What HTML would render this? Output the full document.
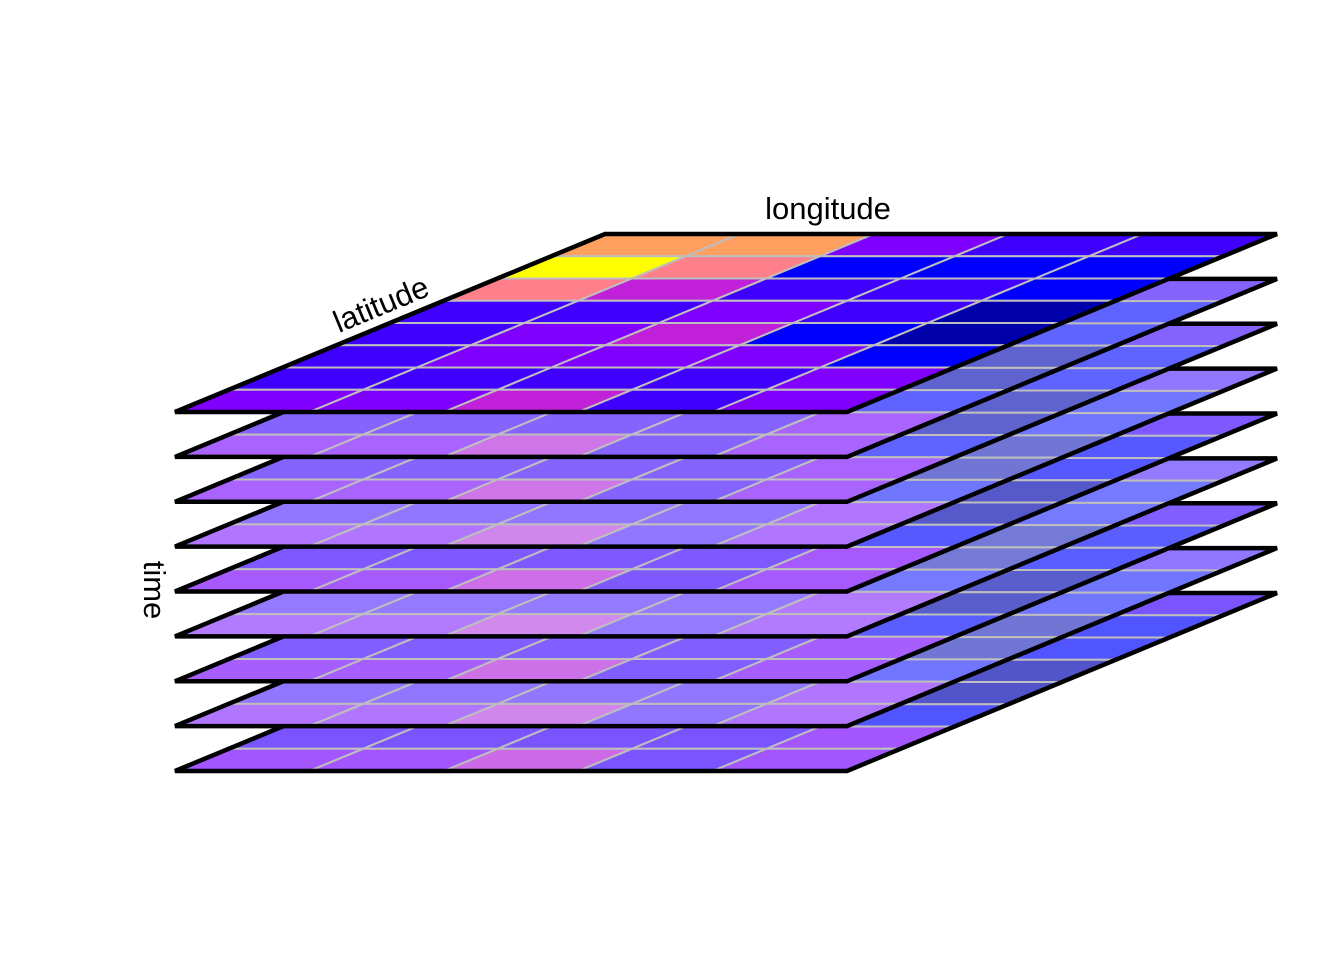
<!DOCTYPE html>
<html><head><meta charset="utf-8"><style>
html,body{margin:0;padding:0;background:#fff;}
svg{display:block;}
text{font-family:"Liberation Sans",Arial,sans-serif;font-size:31px;fill:#000;}
</style></head><body>
<svg id="chart" width="1344" height="960" viewBox="0 0 1344 960" xmlns="http://www.w3.org/2000/svg">
<g id="layers"></g>
<text x="828" y="219" text-anchor="middle">longitude</text>
<text x="385" y="314" text-anchor="middle" transform="rotate(-22.5 385 314)">latitude</text>
<text x="144" y="590" text-anchor="middle" transform="rotate(90 144 590)">time</text>
</svg>
<script>
// grid values: rows back->front, cols left->right
const row0 = ["#FFA060","#FFA060","#8000FF","#4000FF","#4000FF"];
const row1 = ["#FFFF00","#FF7F8A","#0000FF","#0000FF","#0000FF"];
const row2 = ["#FF7F8A","#C020D8","#4000FF","#4000FF","#0000FF"];
const row3 = ["#4000FF","#4000FF","#8000FF","#4000FF","#0000AA"];
const row4 = ["#4000FF","#8000FF","#C020D8","#0000FF","#0000AA"];
const row5 = ["#4000FF","#8000FF","#8000FF","#8000FF","#0000FF"];
const row6 = ["#4000FF","#4000FF","#4000FF","#4000FF","#8000FF"];
const row7 = ["#8000FF","#8000FF","#C020D8","#4000FF","#8000FF"];
const gridRows = [row0,row1,row2,row3,row4,row5,row6,row7];
// lightness (white mix) per time layer, top layer first
const layerFade = [0,0.42,0.42,0.5,0.38,0.52,0.4,0.5,0.36];

const X0=175, W=672, DX=430, DY=178, FRONT0=412, STEP=44.875;
const NS="http://www.w3.org/2000/svg";
const g=document.getElementById('layers');
function mix(hex,f){const n=parseInt(hex.slice(1),16);const r=n>>16,gg=(n>>8)&255,b=n&255;
 const m=(v,t)=>Math.round(v+(t-v)*f);return `rgb(${m(r,225)},${m(gg,235)},${m(b,255)})`;}
function pt(u,v,front){return [X0+W*u+DX*v, front-DY*v];}
function poly(pts){return pts.map(p=>p[0].toFixed(1)+','+p[1].toFixed(1)).join(' ');}
const nR=gridRows.length, nC=gridRows[0].length;
for(let k=layerFade.length-1;k>=0;k--){
 const front=FRONT0+k*STEP;
 const lg=document.createElementNS(NS,'g');
 
 
 for(let r=0;r<nR;r++){for(let c=0;c<nC;c++){
  const v1=(nR-r)/nR, v0=(nR-r-1)/nR, u0=c/nC, u1=(c+1)/nC;
  const p=document.createElementNS(NS,'polygon');
  
  
  p.setAttribute('points',poly([pt(u0,v0,front),pt(u1,v0,front),pt(u1,v1,front),pt(u0,v1,front)]));
  p.setAttribute('fill',mix(gridRows[r][c],layerFade[k]));
  p.setAttribute('stroke','#BEBEBE');p.setAttribute('stroke-width','2');
  lg.appendChild(p);
 }}
 const o=document.createElementNS(NS,'polygon');
 
 
 o.setAttribute('points',poly([pt(0,0,front),pt(1,0,front),pt(1,1,front),pt(0,1,front)]));
 o.setAttribute('fill','none');o.setAttribute('stroke','#000');o.setAttribute('stroke-width','4.5');
 o.setAttribute('stroke-linejoin','miter');
 lg.appendChild(o);
 g.appendChild(lg);
}
</script>
</body></html>
